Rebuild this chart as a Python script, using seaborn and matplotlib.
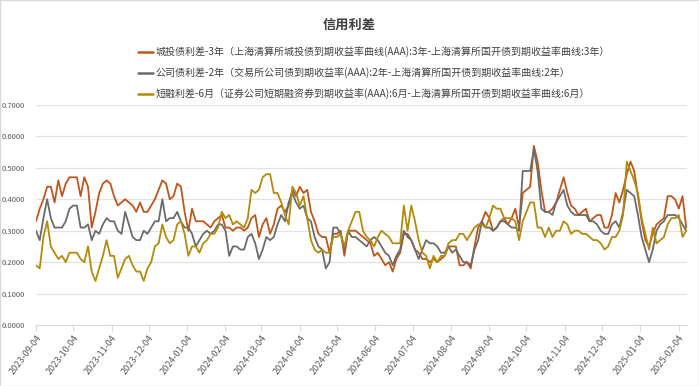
import pandas as pd
import numpy as np
import matplotlib
matplotlib.use("Agg")
import matplotlib.pyplot as plt
import matplotlib.dates as mdates
from matplotlib.patches import Rectangle
import seaborn as sns

# 信用利差 readings, one value every 3 calendar days from 2023-09-04
start_date = "2023-09-04"
step = "3D"

chengtou_3y = [
    0.33, 0.37, 0.40, 0.44, 0.44, 0.39, 0.46, 0.41, 0.45, 0.47,
    0.47, 0.47, 0.41, 0.47, 0.44, 0.31, 0.36, 0.42, 0.45, 0.46,
    0.45, 0.41, 0.38, 0.39, 0.40, 0.39, 0.38, 0.36, 0.39, 0.36,
    0.36, 0.38, 0.40, 0.43, 0.46, 0.45, 0.40, 0.41, 0.45, 0.44,
    0.36, 0.30, 0.37, 0.33, 0.33, 0.33, 0.32, 0.31, 0.33, 0.34,
    0.35, 0.31, 0.31, 0.30, 0.31, 0.31, 0.30, 0.31, 0.34, 0.35,
    0.28, 0.32, 0.34, 0.29, 0.32, 0.37, 0.38, 0.36, 0.38, 0.43,
    0.41, 0.44, 0.42, 0.43, 0.36, 0.33, 0.29, 0.28, 0.28, 0.23,
    0.29, 0.29, 0.30, 0.22, 0.30, 0.30, 0.30, 0.29, 0.28, 0.27,
    0.26, 0.22, 0.23, 0.21, 0.19, 0.20, 0.17, 0.21, 0.23, 0.29,
    0.29, 0.27, 0.24, 0.23, 0.21, 0.21, 0.20, 0.21, 0.20, 0.21,
    0.22, 0.25, 0.25, 0.25, 0.19, 0.19, 0.20, 0.18, 0.25, 0.31,
    0.33, 0.36, 0.34, 0.30, 0.31, 0.33, 0.34, 0.32, 0.34, 0.37,
    0.31, 0.42, 0.43, 0.44, 0.57, 0.52, 0.43, 0.36, 0.36, 0.37,
    0.39, 0.43, 0.47, 0.42, 0.38, 0.37, 0.35, 0.36, 0.37, 0.33,
    0.34, 0.35, 0.35, 0.31, 0.31, 0.35, 0.42, 0.39, 0.43, 0.48,
    0.52, 0.49, 0.41, 0.33, 0.27, 0.25, 0.29, 0.32, 0.33, 0.34,
    0.41, 0.41, 0.40, 0.37, 0.41, 0.31,
]

gongsi_2y = [
    0.30, 0.27, 0.34, 0.40, 0.34, 0.31, 0.31, 0.31, 0.33, 0.37,
    0.38, 0.38, 0.31, 0.31, 0.32, 0.27, 0.30, 0.29, 0.32, 0.34,
    0.33, 0.33, 0.30, 0.29, 0.36, 0.32, 0.28, 0.27, 0.27, 0.30,
    0.29, 0.31, 0.33, 0.33, 0.40, 0.33, 0.34, 0.34, 0.36, 0.33,
    0.31, 0.31, 0.29, 0.25, 0.27, 0.29, 0.30, 0.29, 0.30, 0.32,
    0.32, 0.30, 0.22, 0.25, 0.25, 0.24, 0.24, 0.28, 0.29, 0.26,
    0.21, 0.24, 0.28, 0.27, 0.28, 0.32, 0.35, 0.33, 0.39, 0.42,
    0.39, 0.37, 0.38, 0.34, 0.33, 0.28, 0.25, 0.24, 0.18, 0.20,
    0.31, 0.31, 0.29, 0.24, 0.30, 0.28, 0.28, 0.27, 0.26, 0.25,
    0.27, 0.28, 0.27, 0.25, 0.23, 0.22, 0.19, 0.22, 0.24, 0.30,
    0.28, 0.27, 0.24, 0.21, 0.24, 0.27, 0.26, 0.26, 0.25, 0.23,
    0.23, 0.25, 0.23, 0.24, 0.22, 0.20, 0.20, 0.19, 0.24, 0.27,
    0.33, 0.31, 0.31, 0.30, 0.31, 0.33, 0.33, 0.32, 0.31, 0.31,
    0.30, 0.49, 0.49, 0.49, 0.56, 0.49, 0.37, 0.36, 0.36, 0.35,
    0.39, 0.41, 0.43, 0.38, 0.36, 0.35, 0.35, 0.35, 0.35, 0.33,
    0.33, 0.32, 0.30, 0.29, 0.29, 0.32, 0.33, 0.31, 0.36, 0.43,
    0.42, 0.41, 0.35, 0.28, 0.24, 0.20, 0.24, 0.30, 0.32, 0.33,
    0.35, 0.35, 0.35, 0.34, 0.32, 0.30,
]

duanrong_6m = [
    0.19, 0.18, 0.28, 0.33, 0.25, 0.23, 0.21, 0.22, 0.20, 0.23,
    0.23, 0.23, 0.21, 0.20, 0.25, 0.17, 0.14, 0.18, 0.22, 0.27,
    0.22, 0.22, 0.15, 0.18, 0.21, 0.22, 0.19, 0.17, 0.17, 0.14,
    0.18, 0.20, 0.25, 0.26, 0.32, 0.28, 0.26, 0.27, 0.32, 0.33,
    0.29, 0.22, 0.25, 0.25, 0.23, 0.26, 0.27, 0.29, 0.29, 0.31,
    0.36, 0.34, 0.35, 0.32, 0.33, 0.32, 0.31, 0.34, 0.43, 0.42,
    0.43, 0.47, 0.48, 0.48, 0.42, 0.42, 0.39, 0.35, 0.32, 0.44,
    0.42, 0.38, 0.41, 0.34, 0.27, 0.24, 0.23, 0.24, 0.23, 0.23,
    0.28, 0.28, 0.29, 0.25, 0.30, 0.33, 0.36, 0.36, 0.30, 0.28,
    0.27, 0.25, 0.28, 0.30, 0.29, 0.28, 0.26, 0.26, 0.26, 0.38,
    0.30, 0.38, 0.33, 0.27, 0.23, 0.22, 0.18, 0.22, 0.20, 0.22,
    0.22, 0.26, 0.27, 0.27, 0.29, 0.29, 0.27, 0.29, 0.31, 0.32,
    0.32, 0.31, 0.34, 0.38, 0.37, 0.37, 0.34, 0.34, 0.34, 0.33,
    0.27, 0.33, 0.36, 0.39, 0.39, 0.31, 0.31, 0.28, 0.31, 0.28,
    0.30, 0.30, 0.33, 0.32, 0.29, 0.30, 0.30, 0.29, 0.29, 0.28,
    0.27, 0.27, 0.26, 0.24, 0.25, 0.28, 0.28, 0.30, 0.35, 0.52,
    0.49, 0.46, 0.42, 0.34, 0.29, 0.24, 0.31, 0.26, 0.27, 0.28,
    0.32, 0.34, 0.34, 0.35, 0.28, 0.30,
]

series_names = [
    "城投债利差-3年（上海清算所城投债到期收益率曲线(AAA):3年-上海清算所国开债到期收益率曲线:3年）",
    "公司债利差-2年（交易所公司债到期收益率(AAA):2年-上海清算所国开债到期收益率曲线:2年）",
    "短融利差-6月（证券公司短期融资券到期收益率(AAA):6月-上海清算所国开债到期收益率曲线:6月）",
]
series_colors = ["#C0561B", "#6B6B6B", "#B38B0B"]

tick_dates = [
    "2023-09-04", "2023-10-04", "2023-11-04", "2023-12-04", "2024-01-04",
    "2024-02-04", "2024-03-04", "2024-04-04", "2024-05-04", "2024-06-04",
    "2024-07-04", "2024-08-04", "2024-09-04", "2024-10-04", "2024-11-04",
    "2024-12-04", "2025-01-04", "2025-02-04",
]
y_ticks = [0.0, 0.1, 0.2, 0.3, 0.4, 0.5, 0.6, 0.7]

dates = pd.date_range(start_date, periods=len(chengtou_3y), freq=step)
df = pd.DataFrame({
    "date": dates,
    series_names[0]: chengtou_3y,
    series_names[1]: gongsi_2y,
    series_names[2]: duanrong_6m,
})
long_df = df.melt(id_vars="date", var_name="series", value_name="value")

sns.set_style("white")
plt.rcParams["font.family"] = ["Noto Sans CJK SC", "DejaVu Sans"]

fig = plt.figure(figsize=(6.99, 3.86), dpi=100)
ax = fig.add_axes([0.0515, 0.158, 0.932, 0.570])

sns.lineplot(data=long_df, x="date", y="value", hue="series",
             hue_order=series_names, palette=series_colors,
             linewidth=1.3, ax=ax, legend=False)

ax.set_xlim(dates[0], dates[-1] + pd.Timedelta(days=1))
ax.set_ylim(0, 0.7)
ax.set_yticks(y_ticks)
ax.yaxis.set_major_formatter(plt.FuncFormatter(lambda v, _: f"{v:.4f}"))
ax.set_xticks(pd.to_datetime(tick_dates))
ax.xaxis.set_major_formatter(mdates.DateFormatter("%Y-%m-%d"))
ax.tick_params(axis="y", labelsize=5.5, labelcolor="#595959", length=0, pad=8)
ax.tick_params(axis="x", labelsize=6.5, labelcolor="#595959", length=4,
               color="#d9d9d9", direction="out", bottom=True, pad=2)
for lbl in ax.get_xticklabels():
    lbl.set_rotation(53)
    lbl.set_ha("right")
    lbl.set_rotation_mode("anchor")

ax.grid(axis="y", color="#e3e3e3", linewidth=0.9)
ax.grid(axis="x", visible=False)
for side in ["top", "right", "left"]:
    ax.spines[side].set_visible(False)
ax.spines["bottom"].set_color("#d9d9d9")
ax.set_xlabel("")
ax.set_ylabel("")

fig.text(0.5, 0.935, "信用利差", ha="center", va="center",
         fontsize=9.5, fontweight="bold", color="#404040")

handles = [plt.Line2D([], [], color=c, linewidth=1.8) for c in series_colors]
fig.legend(handles, series_names, loc="upper left",
           bbox_to_anchor=(0.192, 0.89), frameon=False, fontsize=7.2,
           handlelength=1.5, handletextpad=0.2, labelspacing=1.0,
           labelcolor="#404040", borderaxespad=0)

fig.patches.append(Rectangle((0, 0), 1, 1, transform=fig.transFigure,
                             fill=False, edgecolor="#d9d9d9", linewidth=1))

fig.savefig("out.png", dpi=100, facecolor="white")
